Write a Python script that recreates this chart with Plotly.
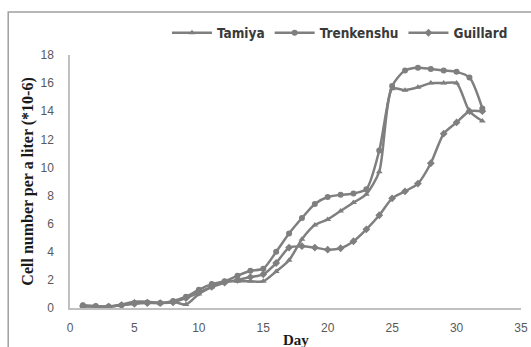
import plotly.graph_objects as go

days = list(range(1, 33))

tamiya = [0.1, 0.1, 0.1, 0.25, 0.45, 0.45, 0.35, 0.45, 0.25, 1.0,
          1.5, 1.9, 1.9, 1.9, 1.9, 2.6, 3.4, 4.9, 5.9, 6.3,
          6.9, 7.5, 8.1, 9.7, 15.6, 15.5, 15.7, 16.0, 16.0, 16.0,
          14.0, 13.3]

trenkenshu = [0.2, 0.15, 0.1, 0.2, 0.35, 0.4, 0.35, 0.5, 0.8, 1.3,
              1.7, 1.9, 2.3, 2.65, 2.8, 4.0, 5.3, 6.4, 7.4, 7.9,
              8.05, 8.15, 8.45, 11.2, 15.8, 16.9, 17.1, 17.0, 16.9, 16.8,
              16.4, 14.2]

guillard = [0.15, 0.1, 0.1, 0.2, 0.3, 0.35, 0.35, 0.4, 0.7, 1.1,
            1.5, 1.8, 2.0, 2.2, 2.4, 3.2, 4.3, 4.4, 4.3, 4.15,
            4.25, 4.75, 5.6, 6.6, 7.8, 8.3, 8.85, 10.3, 12.4, 13.2,
            14.0, 14.0]

series_names = ["Tamiya", "Trenkenshu", "Guillard"]
series_values = [tamiya, trenkenshu, guillard]
symbols = ["triangle-up", "circle", "diamond"]

x_ticks = [0, 5, 10, 15, 20, 25, 30, 35]
y_ticks = [0, 2, 4, 6, 8, 10, 12, 14, 16, 18]

GREY = "#7f7f7f"

fig = go.Figure()
for name, vals, sym in zip(series_names, series_values, symbols):
    fig.add_trace(go.Scatter(
        x=days, y=vals, name=name, mode="lines+markers",
        line=dict(color=GREY, width=2.5, shape="spline", smoothing=0.7),
        marker=dict(symbol=sym, size=6, color=GREY),
    ))

fig.update_layout(
    width=531, height=347,
    margin=dict(l=70, r=10, t=55, b=39, autoexpand=False),
    paper_bgcolor="white", plot_bgcolor="white",
    showlegend=True,
    legend=dict(
        orientation="h", x=0.215, xanchor="left", y=1.087, yanchor="middle",
        font=dict(family="Liberation Sans Narrow, DejaVu Sans Condensed, sans-serif",
                  size=13.5, color="#3a3a3a", weight="bold"),
        itemwidth=40, tracegroupgap=0, bgcolor="rgba(0,0,0,0)",
    ),
    xaxis=dict(
        range=[0, 35], tickvals=x_ticks, ticktext=[str(v) for v in x_ticks],
        showgrid=False, zeroline=False, showline=True, linecolor="#c0c0c0",
        linewidth=1.5, ticks="outside", ticklen=8, tickcolor="rgba(0,0,0,0)",
        tickfont=dict(family="Liberation Sans, Arial, sans-serif", size=12,
                      color="#595959"),
    ),
    yaxis=dict(
        range=[0, 18], tickvals=y_ticks, ticktext=[str(v) for v in y_ticks],
        showgrid=False, zeroline=False, showline=True, linecolor="#c0c0c0",
        linewidth=1.5, ticks="outside", ticklen=12, tickcolor="rgba(0,0,0,0)",
        tickfont=dict(family="Liberation Sans, Arial, sans-serif", size=12,
                      color="#595959"),
    ),
    annotations=[
        dict(text="<b>Cell number per a liter (*10-6)</b>", xref="paper",
             yref="paper", x=-0.095, y=0.5, xanchor="center", yanchor="middle",
             textangle=-90, showarrow=False,
             font=dict(family="Liberation Serif, Times New Roman, serif",
                       size=16, color="#1a1a1a")),
        dict(text="<b>Day</b>", xref="paper", yref="paper", x=0.5,
             y=-0.087, xanchor="center", yanchor="top", showarrow=False,
             font=dict(family="Liberation Serif, Times New Roman, serif",
                       size=15, color="#1a1a1a")),
    ],
    shapes=[
        dict(type="rect", xref="paper", yref="paper",
             x0=-0.137, x1=1.2, y0=-0.5, y1=1.17,
             line=dict(color="#a0a0a0", width=1.5), layer="below"),
    ],
)

fig.write_html("out.html",
               config={"displayModeBar": False},
               post_script="document.body.style.margin='0px';")
